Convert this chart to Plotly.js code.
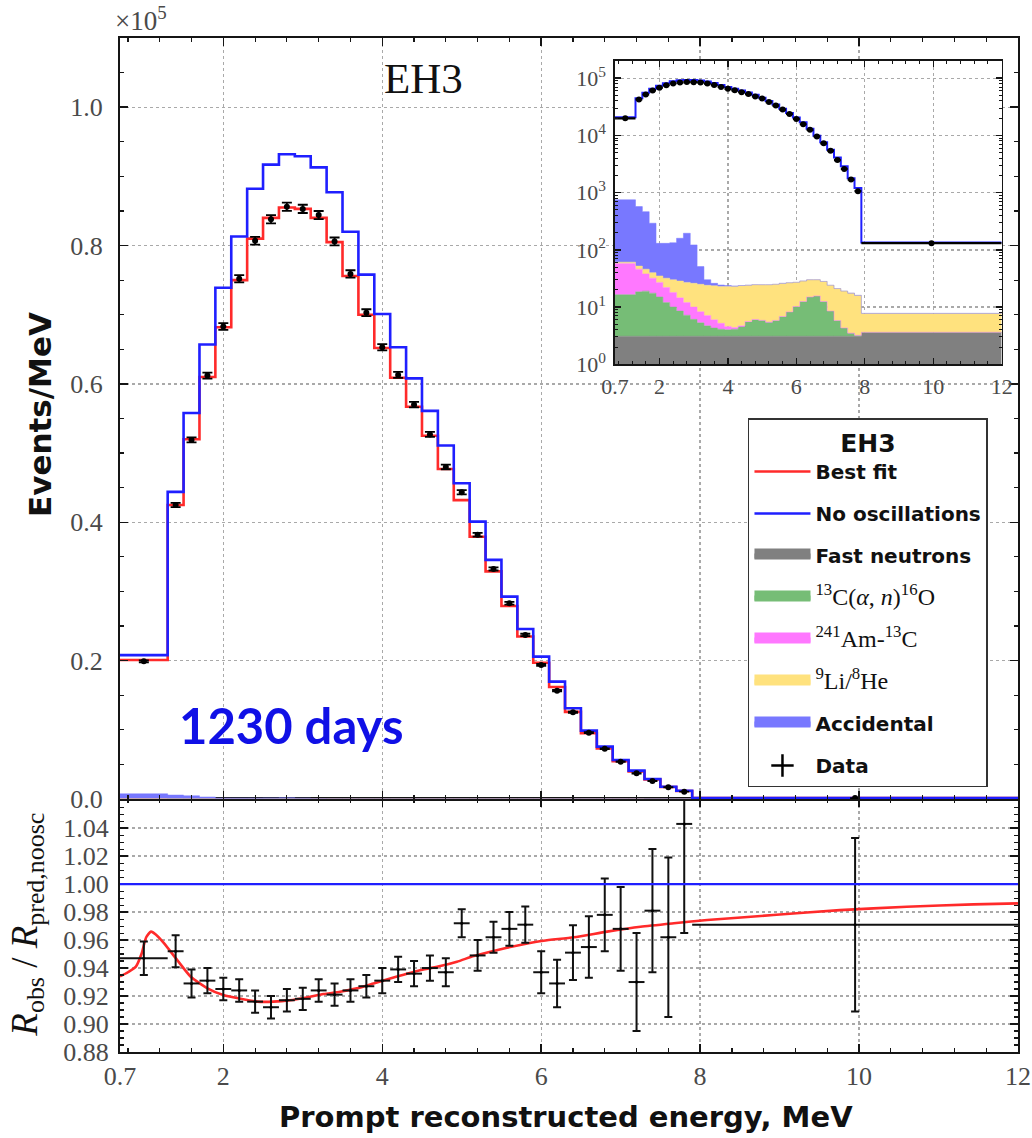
<!DOCTYPE html>
<html>
<head>
<meta charset="utf-8">
<script src="https://cdn.plot.ly/plotly-3.0.1.min.js"></script>
<style>html,body{margin:0;padding:0;background:#fff;}#chart{width:1032px;height:1138px;}</style>
</head>
<body>
<div id="chart"></div>
<script>
// ---------- data ----------
const binEdges = [0.7,1.3,1.5,1.7,1.9,2.1,2.3,2.5,2.7,2.9,3.1,3.3,3.5,3.7,3.9,4.1,4.3,4.5,4.7,4.9,5.1,5.3,5.5,5.7,5.9,6.1,6.3,6.5,6.7,6.9,7.1,7.3,7.5,7.7,7.9,12];
const binCenters = [1.0,1.4,1.6,1.8,2.0,2.2,2.4,2.6,2.8,3.0,3.2,3.4,3.6,3.8,4.0,4.2,4.4,4.6,4.8,5.0,5.2,5.4,5.6,5.8,6.0,6.2,6.4,6.6,6.8,7.0,7.2,7.4,7.6,7.8,9.95];
const binHalfWidths = [0.3,0.1,0.1,0.1,0.1,0.1,0.1,0.1,0.1,0.1,0.1,0.1,0.1,0.1,0.1,0.1,0.1,0.1,0.1,0.1,0.1,0.1,0.1,0.1,0.1,0.1,0.1,0.1,0.1,0.1,0.1,0.1,0.1,0.1,2.05];

// Events / MeV
const noOscillation = [20800,44400,55800,65700,73900,81300,88200,91700,93200,92900,91300,87700,82000,75800,70100,65300,60800,56100,51100,45650,40100,34560,29260,24580,20580,16970,13110,9880,7570,5640,4100,2900,1780,1200,135];
const bestFit = [20100,42500,52000,61000,68200,75000,81000,84000,85500,85300,84000,80500,75600,70000,65200,60900,56700,52500,47700,43200,37900,32900,27900,23500,19700,16200,12600,9500,7300,5450,3970,2810,1730,1160,132];
const dataObserved = [19900,42500,51900,61200,68300,75200,80700,83800,85600,85300,84400,80600,75900,70300,65300,61300,57000,52700,48000,44350,38200,33260,28300,23720,19380,15660,12540,9590,7270,5400,3710,2600,1690,1060,131];

// backgrounds, Events / MeV (stacked in the figure)
const fastNeutrons = [3.1,3.1,3.1,3.1,3.1,3.1,3.1,3.1,3.1,3.1,3.1,3.1,3.1,3.1,3.1,3.1,3.1,3.1,3.1,3.1,3.1,3.1,3.1,3.1,3.1,3.1,3.1,3.1,3.1,3.1,3.1,3.1,3.1,3.1,3.6];
const carbonAlphaN = [13.4,15.4,15.9,14.4,11.9,8.9,6.9,5.4,4.1,3.0,2.2,1.6,1.2,1.0,0.9,1.0,1.4,2.4,2.9,2.7,2.3,2.7,3.7,5.1,7.1,9.4,11.9,12.5,9.4,5.4,2.7,1.2,0.4,0.1,0.02];
const amC = [41.5,27.5,19,14.5,12,10,8,6,4.8,3.9,3.0,2.4,1.7,1.1,0.6,0.3,0.2,0.1,0.08,0.07,0.06,0.05,0.05,0.04,0.04,0.03,0.03,0.03,0.02,0.02,0.02,0.02,0.01,0.01,0.01];
const li9He8 = [3,6,8,8,8,10,12,14,15,16,16.7,16.9,17.5,17.8,18.4,18.6,18.8,18.4,18.4,18.6,19.0,19.1,19.1,18.3,16.8,16.0,15.0,14.4,15.5,15.5,15.2,14.7,14.0,12.8,4.1];
const accidental = [689,518,419,252,95,98,103,131,168,96,26,6,2.5,1.3,0.8,0.4,0.3,0.2,0.2,0.15,0.15,0.1,0.1,0.1,0.08,0.08,0.06,0.06,0.05,0.05,0.05,0.04,0.04,0.04,0.05];

// ratio panel
const ratioObserved = [0.947,0.952,0.929,0.931,0.925,0.924,0.916,0.912,0.917,0.918,0.924,0.921,0.924,0.927,0.931,0.939,0.936,0.940,0.937,0.972,0.949,0.962,0.968,0.971,0.937,0.929,0.951,0.955,0.978,0.968,0.930,0.981,0.962,1.043,0.971];
const ratioError = [0.012,0.0115,0.010,0.009,0.008,0.008,0.008,0.008,0.008,0.008,0.008,0.008,0.008,0.008,0.009,0.009,0.009,0.009,0.010,0.010,0.011,0.011,0.012,0.013,0.015,0.017,0.0195,0.022,0.026,0.030,0.035,0.044,0.057,0.078,0.062];
const ratioFitEnergy = [0.7,0.8,0.9,0.97,1.03,1.09,1.15,1.25,1.42,1.59,1.8,2.0,2.22,2.43,2.63,2.84,3.05,3.26,3.47,3.68,3.89,4.1,4.31,4.52,4.73,4.94,5.15,5.36,5.57,5.78,6.03,6.41,6.83,7.25,7.67,8.09,8.92,9.76,10.6,11.44,12];
const ratioFitValue = [0.934,0.937,0.941,0.950,0.962,0.966,0.964,0.958,0.9457,0.9338,0.9255,0.9207,0.918,0.916,0.916,0.917,0.919,0.9214,0.923,0.9255,0.929,0.9326,0.936,0.939,0.9414,0.9445,0.9486,0.9517,0.9545,0.957,0.9595,0.962,0.966,0.9695,0.972,0.9743,0.9779,0.9814,0.9838,0.9855,0.9862];
const noOscRatio = 1.0;

// ticks
const xTickVals = [0.7,2,4,6,8,10,12];
const xTickText = ['0.7','2','4','6','8','10','12'];
const mainTickVals = [0,20000,40000,60000,80000,100000];
const mainTickText = ['0.0','0.2','0.4','0.6','0.8','1.0'];
const ratioTickVals = [0.88,0.90,0.92,0.94,0.96,0.98,1.00,1.02,1.04];
const ratioTickText = ['0.88','0.90','0.92','0.94','0.96','0.98','1.00','1.02','1.04'];
const insetTickVals = [1,10,100,1000,10000,100000];
const insetTickText = ['10<sup>0</sup>','10<sup>1</sup>','10<sup>2</sup>','10<sup>3</sup>','10<sup>4</sup>','10<sup>5</sup>'];

// ---------- styling ----------
const RED = '#ff2a2a', BLUE = '#1f1fff';
const SERIF = "'Liberation Serif', serif";
const SANS = "'DejaVu Sans', sans-serif";
const serifSpan = s => '<span style="font-family:\'Liberation Serif\';font-weight:normal;font-size:24px">' + s + '</span>';
const bkgDefs = [
  {name:'<b>Fast neutrons</b>', vals:fastNeutrons, color:'#808080', rank:3},
  {name:serifSpan('<sup>13</sup>C(<i>α</i>, <i>n</i>)<sup>16</sup>O'), vals:carbonAlphaN, color:'#76bd76', rank:4},
  {name:serifSpan('<sup>241</sup>Am-<sup>13</sup>C'), vals:amC, color:'#ff78ff', rank:5},
  {name:serifSpan('<sup>9</sup>Li/<sup>8</sup>He'), vals:li9He8, color:'#ffe27e', rank:6},
  {name:'<b>Accidental</b>', vals:accidental, color:'#7878ff', rank:7}
];
const stepY = v => v.concat([v[v.length - 1]]);

const traces = [];
// main panel backgrounds (x2/y2) and inset backgrounds (x3/y3)
[['x2','y2','mainBkg'],['x3','y3','insetBkg']].forEach(([xa,ya,grp]) => {
  bkgDefs.forEach(b => {
    traces.push({type:'scatter', x:binEdges, y:stepY(b.vals), xaxis:xa, yaxis:ya,
      stackgroup:grp, mode:'lines', line:{shape:'hv', width:0.5, color:b.color},
      fillcolor:b.color, showlegend:false, hoverinfo:'skip'});
  });
});
// main panel lines
traces.push({type:'scatter', x:binEdges, y:stepY(bestFit), xaxis:'x2', yaxis:'y2', mode:'lines',
  line:{shape:'hv', color:RED, width:2.6}, name:'<b>Best fit</b>', legendrank:1, legendgroup:'g1'});
traces.push({type:'scatter', x:binEdges, y:stepY(noOscillation), xaxis:'x2', yaxis:'y2', mode:'lines',
  line:{shape:'hv', color:BLUE, width:2.6}, name:'<b>No oscillations</b>', legendrank:2, legendgroup:'g2'});
traces.push({type:'scatter', x:binCenters, y:dataObserved, xaxis:'x2', yaxis:'y2', mode:'markers',
  marker:{color:'#000', size:6}, error_y:{type:'percent', value:0.7, color:'#000', thickness:1.8, width:5},
  showlegend:false});
// legend patches for the backgrounds
bkgDefs.forEach((b,i) => {
  traces.push({type:'scatter', x:[null], y:[null], xaxis:'x2', yaxis:'y2', mode:'lines', fill:'toself',
    fillcolor:b.color, line:{color:b.color, width:10}, name:b.name, legendrank:b.rank, legendgroup:'b'+i});
});
traces.push({type:'scatter', x:[null], y:[null], xaxis:'x2', yaxis:'y2', mode:'markers',
  marker:{symbol:'cross-thin-open', size:16, color:'#000', line:{color:'#000', width:2.5}},
  name:'<b>Data</b>', legendrank:8, legendgroup:'g8'});
// inset lines
traces.push({type:'scatter', x:binEdges, y:stepY(noOscillation), xaxis:'x3', yaxis:'y3', mode:'lines',
  line:{shape:'hv', color:BLUE, width:2}, showlegend:false});
traces.push({type:'scatter', x:binCenters, y:dataObserved, xaxis:'x3', yaxis:'y3', mode:'markers',
  marker:{color:'#000', size:6}, error_x:{type:'data', array:binHalfWidths, color:'#000', thickness:2.2, width:0},
  showlegend:false});
// ratio panel
traces.push({type:'scatter', x:ratioFitEnergy, y:ratioFitValue, xaxis:'x', yaxis:'y', mode:'lines',
  line:{shape:'spline', smoothing:0.6, color:RED, width:2.6}, showlegend:false});
traces.push({type:'scatter', x:binCenters, y:ratioObserved, xaxis:'x', yaxis:'y', mode:'markers',
  marker:{color:'#000', size:3},
  error_x:{type:'data', array:binHalfWidths, color:'#111', thickness:2, width:0},
  error_y:{type:'data', array:ratioError, color:'#111', thickness:2, width:4},
  showlegend:false});

const axisBase = () => ({
  showline:true, linecolor:'#151515', linewidth:2, mirror:'allticks',
  ticks:'inside', ticklen:8, tickwidth:1.4, tickcolor:'#151515',
  showgrid:true, gridcolor:'#a9a9a9', gridwidth:1.3, griddash:'dot',
  zeroline:false, tickfont:{family:SERIF, size:26, color:'#4a4a4a'}
});
const minorX = {ticks:'inside', ticklen:4, tickwidth:1.2, tickcolor:'#151515', showgrid:false, tick0:0, dtick:0.4};

const layout = {
  width:1032, height:1138,
  margin:{l:120, r:14, t:38, b:86},
  paper_bgcolor:'#fff', plot_bgcolor:'#fff',
  showlegend:true, hovermode:false,
  font:{family:SERIF, color:'#000'},
  xaxis:Object.assign(axisBase(), {domain:[0,1], anchor:'y', range:[0.7,12], tickmode:'array',
    tickvals:xTickVals, ticktext:xTickText, minor:minorX, ticklabelstandoff:0}),
  yaxis:Object.assign(axisBase(), {domain:[0,0.2495], anchor:'x', range:[0.88,1.0608], tickmode:'array',
    tickvals:ratioTickVals, ticktext:ratioTickText, ticklabelstandoff:4,
    minor:{ticks:'inside', ticklen:4, tickwidth:1.1, tickcolor:'#151515', showgrid:false, tick0:0, dtick:0.005}}),
  xaxis2:Object.assign(axisBase(), {domain:[0,1], anchor:'y2', matches:'x', range:[0.7,12], tickmode:'array',
    tickvals:xTickVals, ticktext:xTickText, showticklabels:false, minor:minorX}),
  yaxis2:Object.assign(axisBase(), {domain:[0.2495,1], anchor:'x2', range:[0,110000], tickmode:'array',
    tickvals:mainTickVals, ticktext:mainTickText, ticklabelstandoff:10,
    minor:{ticks:'inside', ticklen:4, tickwidth:1.2, tickcolor:'#151515', showgrid:false, tick0:0, dtick:5000}}),
  xaxis3:Object.assign(axisBase(), {domain:[0.5512,0.9818], anchor:'y3', range:[0.7,12], tickmode:'array',
    tickvals:xTickVals, ticktext:xTickText, linewidth:1.6, ticklen:6,
    tickfont:{family:SERIF, size:22, color:'#4a4a4a'}, ticklabelstandoff:2,
    minor:{ticks:'inside', ticklen:3, tickwidth:1, tickcolor:'#151515', showgrid:false, tick0:0, dtick:0.4}}),
  yaxis3:Object.assign(axisBase(), {domain:[0.6782,0.9773], anchor:'x3', type:'log', range:[0,5.3], tickmode:'array',
    tickvals:insetTickVals, ticktext:insetTickText, linewidth:1.6, ticklen:6,
    tickfont:{family:SERIF, size:22, color:'#4a4a4a'}, ticklabelstandoff:3,
    minor:{ticks:'inside', ticklen:3, tickwidth:1, tickcolor:'#151515', showgrid:false, dtick:'D1'}}),
  legend:{x:0.6993, y:0.6252, xanchor:'left', yanchor:'top', bgcolor:'#fff', bordercolor:'#333', borderwidth:1.5,
    font:{family:SANS, size:20, color:'#111'}, itemwidth:56, tracegroupgap:13, traceorder:'grouped',
    title:{text:'<b>EH3</b>', side:'top center', font:{family:SANS, size:25, color:'#111'}}},
  shapes:[{type:'line', xref:'paper', yref:'y', x0:0, x1:1, y0:noOscRatio, y1:noOscRatio,
    line:{color:BLUE, width:2.2}, layer:'above'}],
  annotations:[
    {xref:'paper', yref:'paper', x:-0.008, y:1.0, xanchor:'left', yanchor:'bottom', showarrow:false,
      text:'×10<sup>5</sup>', font:{family:SERIF, size:27, color:'#4a4a4a'}},
    {xref:'paper', yref:'paper', x:0.3385, y:0.9596, xanchor:'center', yanchor:'middle', showarrow:false,
      text:'EH3', font:{family:SERIF, size:43, color:'#111'}},
    {xref:'paper', yref:'paper', x:0.0635, y:0.3225, xanchor:'left', yanchor:'middle', showarrow:false,
      text:'<b>1230 days</b>', font:{family:'Lato, sans-serif', size:49, color:'#1010e6'}},
    {xref:'paper', yref:'paper', x:-0.0891, y:0.6292, xanchor:'center', yanchor:'middle', showarrow:false,
      textangle:-90, text:'<b>Events/MeV</b>', font:{family:SANS, size:31, color:'#111'}},
    {xref:'paper', yref:'paper', x:-0.104, y:0.1252, xanchor:'center', yanchor:'middle', showarrow:false,
      textangle:-90, text:'<i>R</i><sub>obs</sub> / <i>R</i><sub>pred,noosc</sub>', font:{family:SERIF, size:37, color:'#111'}},
    {xref:'paper', yref:'paper', x:0.4967, y:-0.0641, xanchor:'center', yanchor:'middle', showarrow:false,
      text:'<b>Prompt reconstructed energy, MeV</b>', font:{family:SANS, size:29, color:'#111'}}
  ]
};

Plotly.newPlot('chart', traces, layout, {staticPlot:true, displayModeBar:false});
</script>
</body>
</html>
